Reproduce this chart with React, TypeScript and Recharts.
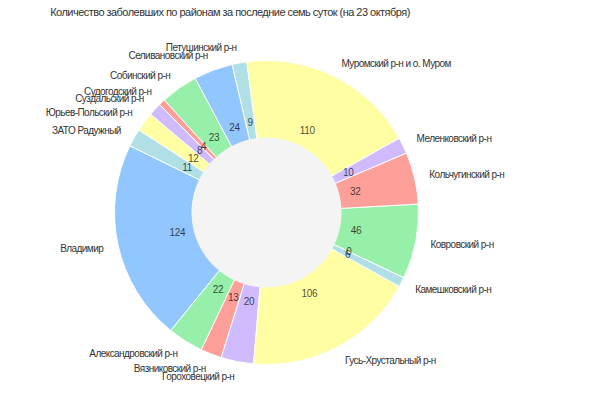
import React from 'react';
import { PieChart, Pie, Cell } from 'recharts';

const titleText = 'Количество заболевших по районам за последние семь суток (на 23 октября)';

const districts = [
  'Владимир',
  'Александровский р-н',
  'Вязниковский р-н',
  'Гороховецкий р-н',
  'Гусь-Хрустальный р-н',
  'Камешковский р-н',
  'Киржачский р-н',
  'Ковровский р-н',
  'Кольчугинский р-н',
  'Меленковский р-н',
  'Муромский р-н и о. Муром',
  'Петушинский р-н',
  'Селивановский р-н',
  'Собинский р-н',
  'Судогодский р-н',
  'Суздальский р-н',
  'Юрьев-Польский р-н',
  'ЗАТО Радужный',
];

const cases = [124, 22, 13, 20, 106, 6, 0, 46, 32, 10, 110, 9, 24, 23, 4, 8, 12, 11];

const palette = ['#92C6FF', '#97F0AA', '#FF9F9A', '#D0BBFF', '#FFFEA3', '#B0E0E6'];

const data = districts.map((name, i) => ({ name, value: cases[i] }));
const holeData = [{ name: 'hole', value: 1 }];

const CX = 266.5;
const CY = 212.5;
const R = 152;
const RAD = Math.PI / 180;
const FONT = '"Liberation Sans", Arial, sans-serif';

const renderLabel = (props: any) => {
  const { cx, cy, midAngle, outerRadius, value, name, index } = props;
  const cos = Math.cos(-midAngle * RAD);
  const sin = Math.sin(-midAngle * RAD);
  const rIn = outerRadius * 0.6;
  const rOut = outerRadius * 1.1;
  const xi = cx + rIn * cos;
  const yi = cy + rIn * sin;
  const xo = cx + rOut * cos;
  const yo = cy + rOut * sin;
  return (
    <g key={`lbl-${index}`}>
      <text
        x={xi}
        y={yi}
        textAnchor="middle"
        dominantBaseline="central"
        fontSize={10}
        fontFamily={FONT}
        fill="#111"
        fillOpacity={0.78}
        style={{ letterSpacing: '-0.3px' }}
      >
        {value}
      </text>
      {value > 0 ? (
        <text
          x={xo}
          y={yo}
          textAnchor={xo > cx ? 'start' : 'end'}
          dominantBaseline="central"
          fontSize={10}
          fontFamily={FONT}
          fill="#333"
          style={{ letterSpacing: '-0.55px' }}
        >
          {name}
        </text>
      ) : null}
    </g>
  );
};

export default function App() {
  return (
    <div style={{ position: 'absolute', left: 0, top: 0, width: 604, height: 407, background: '#fff' }}>
      <div
        style={{
          position: 'absolute',
          left: 0,
          top: 6,
          width: 460,
          textAlign: 'center',
          fontFamily: FONT,
          fontSize: 11,
          letterSpacing: '-0.53px',
          color: '#333',
          whiteSpace: 'nowrap',
        }}
      >
        {titleText}
      </div>
      <PieChart width={604} height={407} margin={{ top: 0, right: 0, bottom: 0, left: 0 }}>
        <Pie
          data={data}
          dataKey="value"
          nameKey="name"
          cx={CX}
          cy={CY}
          innerRadius={0}
          outerRadius={R}
          startAngle={154}
          endAngle={514}
          stroke="#fff"
          strokeWidth={1}
          label={renderLabel}
          labelLine={false}
          isAnimationActive={false}
        >
          {data.map((d, i) => (
            <Cell key={d.name} fill={palette[i % palette.length]} />
          ))}
        </Pie>
        <Pie
          data={holeData}
          dataKey="value"
          cx={CX}
          cy={CY}
          innerRadius={0}
          outerRadius={75}
          fill="#f4f4f4"
          stroke="none"
          isAnimationActive={false}
          label={false}
          labelLine={false}
        />
      </PieChart>
    </div>
  );
}
